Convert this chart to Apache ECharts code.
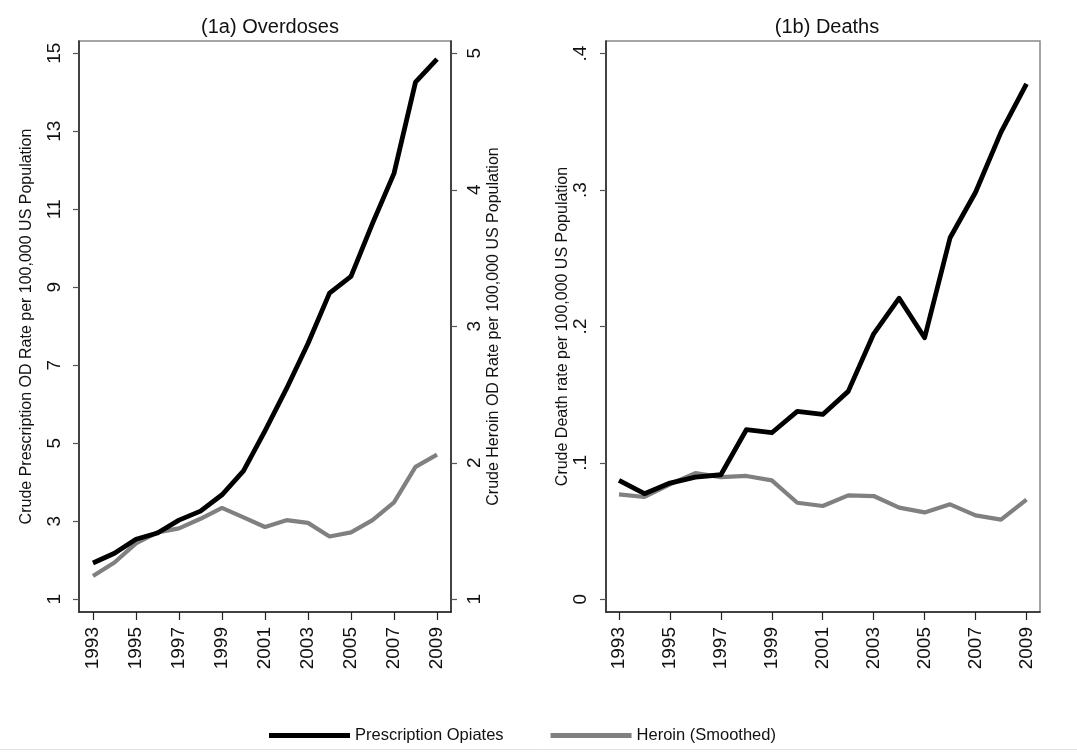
<!DOCTYPE html>
<html>
<head>
<meta charset="utf-8">
<script src="https://cdn.jsdelivr.net/npm/echarts@6/dist/echarts.min.js"></script>
<style>html,body{margin:0;padding:0;background:#fff;}#c{width:1077px;height:752px;}</style>
</head>
<body>
<div id="c"></div>
<script>
const years = [1993,1994,1995,1996,1997,1998,1999,2000,2001,2002,2003,2004,2005,2006,2007,2008,2009];
const rxOverdose = [1.93,2.18,2.54,2.70,3.03,3.26,3.68,4.29,5.32,6.40,7.56,8.85,9.28,10.64,11.92,14.26,14.85];
const heroinOverdose = [1.17,1.27,1.41,1.49,1.52,1.59,1.67,1.60,1.53,1.58,1.56,1.46,1.49,1.58,1.71,1.97,2.06];
const rxDeath = [0.0872,0.0774,0.0852,0.0896,0.0913,0.1243,0.1221,0.1377,0.1355,0.1524,0.1946,0.2207,0.1917,0.2650,0.2984,0.3424,0.3778];
const heroinDeath = [0.0769,0.0750,0.0843,0.0925,0.0896,0.0904,0.0872,0.0708,0.0684,0.0762,0.0757,0.0672,0.0637,0.0696,0.0615,0.0584,0.0730];
const xTicks = [1993,1995,1997,1999,2001,2003,2005,2007,2009];
const rxTicks = [1,3,5,7,9,11,13,15];
const heroinTicks = [1,2,3,4,5];
const deathTicks = [0,0.1,0.2,0.3,0.4];
const titles = ['(1a) Overdoses','(1b) Deaths'];
const seriesNames = ['Prescription Opiates','Heroin (Smoothed)'];
const axisNames = ['Crude Prescription OD Rate per 100,000 US Population','Crude Heroin OD Rate per 100,000 US Population','Crude Death rate per 100,000 US Population'];

const FONT = '"Liberation Sans", Arial, Helvetica, sans-serif';
const DARK = '#222';
const pairs = (vals) => years.map((y,i)=>[y, vals[i]]);

function xAxis(gridIndex, min, max){
  return {
    type:'value', gridIndex, min, max, splitLine:{show:false},
    axisLine:{show:true, onZero:false, lineStyle:{color:DARK, width:1.5}},
    axisTick:{show:true, length:8, customValues:xTicks, lineStyle:{color:DARK, width:1.2}},
    axisLabel:{show:true, rotate:90, margin:15, customValues:xTicks, fontSize:19, color:'#111', fontFamily:FONT, formatter:v=>String(v)}
  };
}
function yAxis(gridIndex, position, min, max, ticks, fmt, name, nameGap, margin){
  return {
    type:'value', gridIndex, position, min, max, splitLine:{show:false},
    name, nameLocation:'middle', nameGap, nameRotate:90,
    nameTextStyle:{fontSize:16, color:'#111', fontFamily:FONT},
    axisLine:{show:true, onZero:false, lineStyle:{color:DARK, width:1.5}},
    axisTick:{show:true, length:6, customValues:ticks, lineStyle:{color:'#555', width:1.2}},
    axisLabel:{show:true, rotate:90, margin, customValues:ticks, fontSize:19, color:'#111', fontFamily:FONT, formatter:fmt}
  };
}

const chart = echarts.init(document.getElementById('c'), null, {renderer:'canvas'});
chart.setOption({
  animation:false,
  backgroundColor:'#fff',
  title:[
    {text:titles[0], left:265, top:12, textAlign:'center', textStyle:{fontSize:20, fontWeight:'normal', color:'#111', fontFamily:FONT}},
    {text:titles[1], left:822, top:12, textAlign:'center', textStyle:{fontSize:20, fontWeight:'normal', color:'#111', fontFamily:FONT}}
  ],
  legend:{
    left:264, top:722, itemWidth:81, itemHeight:5, itemGap:47, icon:'rect',
    textStyle:{fontSize:16.5, color:'#111', fontFamily:FONT},
    data:seriesNames
  },
  grid:[
    {left:79, top:41, width:372, height:571, show:true, borderColor:'#888', borderWidth:1.5},
    {left:606, top:41, width:434, height:571, show:true, borderColor:'#888', borderWidth:1.5}
  ],
  xAxis:[ xAxis(0, 1992.35, 2009.65), xAxis(1, 1992.49, 2009.53) ],
  yAxis:[
    yAxis(0,'left',0.674,15.315,rxTicks,v=>String(v),axisNames[0],44,15),
    yAxis(0,'right',0.907,5.09,heroinTicks,v=>String(v),axisNames[1],35,14),
    yAxis(1,'left',-0.00931,0.40924,deathTicks,v=>(v===0?'0':String(Math.round(v*10)/10).replace(/^0/,'')),axisNames[2],29,16)
  ],
  series:[
    {name:seriesNames[0], type:'line', xAxisIndex:0, yAxisIndex:0, data:pairs(rxOverdose), showSymbol:false, lineStyle:{color:'#000', width:4.8, join:'round'}, itemStyle:{color:'#000'}, z:3},
    {name:seriesNames[1], type:'line', xAxisIndex:0, yAxisIndex:1, data:pairs(heroinOverdose), showSymbol:false, lineStyle:{color:'#808080', width:4.2}, itemStyle:{color:'#808080'}, z:2},
    {name:seriesNames[0], type:'line', xAxisIndex:1, yAxisIndex:2, data:pairs(rxDeath), showSymbol:false, lineStyle:{color:'#000', width:4.8, join:'round'}, itemStyle:{color:'#000'}, z:3},
    {name:seriesNames[1], type:'line', xAxisIndex:1, yAxisIndex:2, data:pairs(heroinDeath), showSymbol:false, lineStyle:{color:'#808080', width:4.2}, itemStyle:{color:'#808080'}, z:2}
  ],
  graphic:[
    {type:'line', shape:{x1:0, y1:749.5, x2:1077, y2:749.5}, style:{stroke:'#e2e2e2', lineWidth:1}, silent:true}
  ]
});
</script>
</body>
</html>
